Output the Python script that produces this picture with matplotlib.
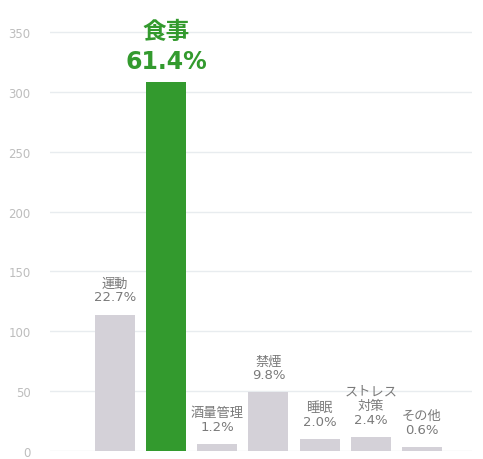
import numpy as np
import matplotlib.pyplot as plt

plt.rcParams['font.family'] = ['DejaVu Sans', 'Noto Sans CJK JP']

categories = ['運動', '食事', '酒量管理', '禁煙', '睡眠', 'ストレス\n対策', 'その他']
counts = [114, 308, 6, 49, 10, 12, 3]
total = sum(counts)
highlight = '食事'

gray = '#d4d1d8'
green = '#339a2e'
label_gray = '#7a7a7a'

fig = plt.figure(figsize=(4.83, 4.60), dpi=100)
ax = fig.add_axes([50 / 483, 8 / 460, 422 / 483, 443 / 460])

x = np.arange(len(categories))
colors = [green if c == highlight else gray for c in categories]
ax.bar(x, counts, width=0.78, color=colors, zorder=2)

for xi, name, n in zip(x, categories, counts):
    pct = f'{n / total * 100:.1f}%'
    if name == highlight:
        ax.annotate(f'{name}\n{pct}', (xi, n), xytext=(0, 7), textcoords='offset points',
                    ha='center', va='bottom', fontsize=17, fontweight='bold',
                    color=green, linespacing=1.3)
    else:
        ax.annotate(f'{name}\n{pct}', (xi, n), xytext=(0, 8), textcoords='offset points',
                    ha='center', va='bottom', fontsize=9.5, color=label_gray,
                    linespacing=1.1)

ax.set_xlim(-1.27, 6.98)
ax.set_ylim(0, 370)
ax.set_yticks(np.arange(0, 351, 50))
ax.set_xticks([])
ax.tick_params(axis='y', length=0, pad=14, labelsize=8.5, labelcolor='#bdbdbd')
ax.grid(axis='y', color='#e8ecef', linewidth=1, zorder=0)
for s in ax.spines.values():
    s.set_visible(False)

fig.savefig('out.png', dpi=100)
